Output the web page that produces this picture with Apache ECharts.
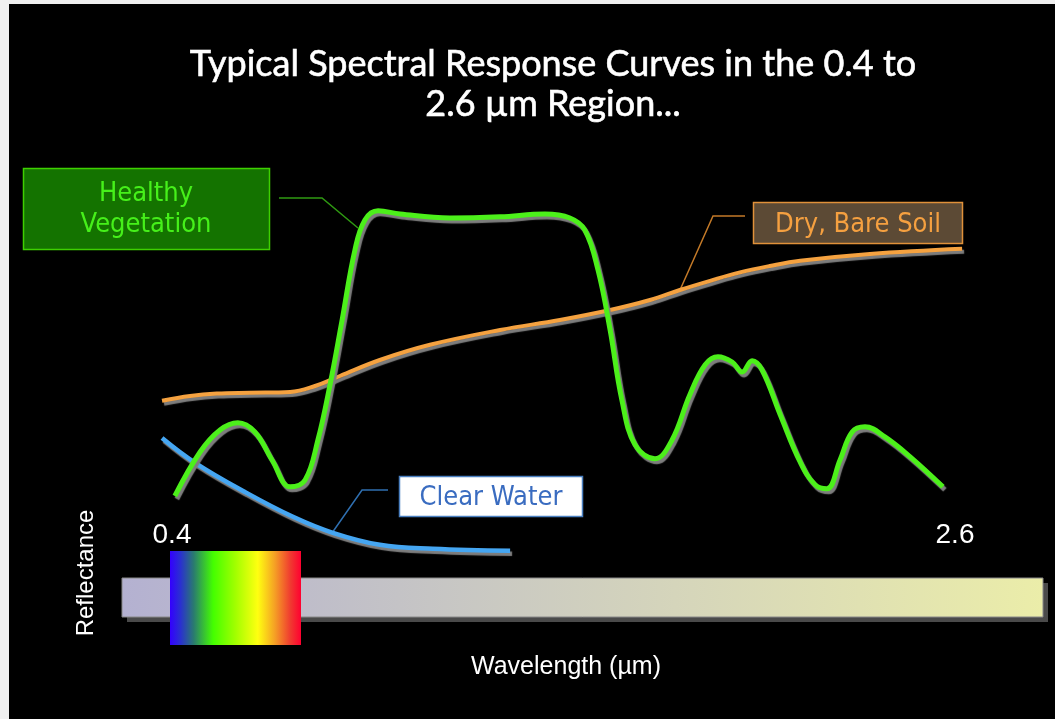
<!DOCTYPE html>
<html>
<head>
<meta charset="utf-8">
<script src="https://cdn.jsdelivr.net/npm/echarts@6/dist/echarts.min.js"></script>
<style>
html,body{margin:0;padding:0;background:#000;}
#c{width:1055px;height:719px;}
</style>
</head>
<body>
<div id="c"></div>
<script>
// Wavelength (µm) / relative reflectance readings
const vegetationX = [0.408,0.479,0.535,0.585,0.633,0.681,0.732,0.774,0.810,0.844,0.878,0.914,0.942,0.979,1.041,1.181,1.322,1.448,1.518,1.560,1.597,1.631,1.664,1.701,1.757,1.805,1.855,1.898,1.934,1.974,2.002,2.030,2.058,2.109,2.165,2.207,2.240,2.277,2.311,2.347,2.403,2.474,2.566];
const vegetationY = [16,27,32.5,34.3,32,25,18.3,20,30,43.8,60,77.5,85,87.3,86.5,85.5,85.8,86.5,85.5,82.5,72.5,57.5,40,28.8,25.3,30,41.3,48.8,50.8,49.5,47,49.8,47.5,36.3,24.5,18.8,17.8,25,32,33.3,30.8,25.8,18.3];
const soilX = [0.372,0.451,0.526,0.619,0.732,0.802,0.872,0.984,1.125,1.322,1.490,1.631,1.743,1.827,1.912,1.996,2.080,2.165,2.361,2.620];
const soilY = [39.8,41,41.6,41.8,42,43.5,46,50,53.8,57.5,60,62.5,65,67.5,69.8,71.9,73.5,74.8,76.5,77.8];
const waterX = [0.372,0.465,0.605,0.740,0.852,0.984,1.133,1.350];
const waterY = [30.5,24.3,17,10.8,6.8,3.8,2.8,2.3];
const tickValues = [0.4, 2.6];
const seriesNames = ['Clear Water', 'Dry, Bare Soil', 'Healthy Vegetation'];
const titleText = 'Typical Spectral Response Curves in the 0.4 to\n2.6 µm Region...';
const xName = 'Wavelength (µm)';
const yName = 'Reflectance';

const zip = (xs, ys) => xs.map((x, i) => [x, ys[i]]);
const chart = echarts.init(document.getElementById('c'));
const shadow = {shadowColor: '#7d7d7d', shadowBlur: 1, shadowOffsetX: 2, shadowOffsetY: 3};
const labelFont = '"DejaVu Sans Condensed","DejaVu Sans",sans-serif';

chart.setOption({
  backgroundColor: '#000',
  animation: false,
  title: {
    text: titleText, left: 548, top: 39, textAlign: 'center',
    textStyle: {color: '#fff', fontFamily: 'Lato', fontWeight: 'normal', fontSize: 36, lineHeight: 40,
      textBorderColor: '#fff', textBorderWidth: 0.6}
  },
  grid: {left: 136.4, right: 64.4, top: 160, bottom: 159},
  xAxis: {
    type: 'value', min: 0.3, max: 2.7,
    axisLine: {show: false}, axisTick: {show: false}, splitLine: {show: false},
    axisLabel: {customValues: tickValues, inside: true, margin: 11, color: '#fff',
      fontFamily: '"Liberation Sans",Arial', fontSize: 28, formatter: v => v.toFixed(1)}
  },
  yAxis: {type: 'value', min: 0, max: 100, show: false},
  series: [
    {name: seriesNames[0], type: 'line', data: zip(waterX, waterY), smooth: 0.4, showSymbol: false,
      lineStyle: Object.assign({color: '#45a6f2', width: 4.5}, shadow)},
    {name: seriesNames[1], type: 'line', data: zip(soilX, soilY), smooth: 0.4, showSymbol: false,
      lineStyle: Object.assign({color: '#f5a240', width: 4}, shadow)},
    {name: seriesNames[2], type: 'line', data: zip(vegetationX, vegetationY), smooth: 0.4, showSymbol: false,
      lineStyle: Object.assign({color: '#4cf01a', width: 5}, shadow)}
  ],
  graphic: [
    // frame edges
    {type: 'rect', shape: {x: 0, y: 0, width: 1055, height: 4}, style: {fill: '#f0f0f0'}},
    {type: 'rect', shape: {x: 0, y: 0, width: 9, height: 719}, style: {fill: '#f0f0f0'}},
    // wavelength bar
    {type: 'rect', shape: {x: 127, y: 583, width: 921, height: 39}, style: {fill: '#4a4a4a'}},
    {type: 'rect', shape: {x: 122, y: 578, width: 921, height: 39},
      style: {stroke: '#888', lineWidth: 1, fill: new echarts.graphic.LinearGradient(0, 0, 1, 0, [
        {offset: 0, color: '#b4b1d1'}, {offset: 0.3, color: '#c4c3c6'},
        {offset: 0.6, color: '#d5d5bb'}, {offset: 1, color: '#ebeda9'}])}},
    {type: 'rect', shape: {x: 170, y: 551, width: 131, height: 94},
      style: {fill: new echarts.graphic.LinearGradient(0, 0, 1, 0, [
        {offset: 0, color: '#3300ff'}, {offset: 0.08, color: '#2a30d0'}, {offset: 0.18, color: '#2a7a70'},
        {offset: 0.33, color: '#44ff00'}, {offset: 0.5, color: '#a2ff00'}, {offset: 0.67, color: '#ffff10'},
        {offset: 0.8, color: '#f5a025'}, {offset: 0.92, color: '#f03a30'}, {offset: 1, color: '#ff0030'}])}},
    // axis names
    {type: 'text', x: 86, y: 573, rotation: Math.PI / 2,
      style: {text: yName, fill: '#fff', font: '24px "Liberation Sans", Arial', align: 'center', verticalAlign: 'middle'}},
    {type: 'text', x: 566, y: 667,
      style: {text: xName, fill: '#fff', font: '25px "Liberation Sans", Arial', align: 'center', verticalAlign: 'middle'}},
    // Healthy Vegetation label
    {type: 'polyline', shape: {points: [[279, 198], [322, 198], [358, 228]]}, style: {stroke: '#2f9a12', lineWidth: 1.5, fill: null}},
    {type: 'rect', shape: {x: 23.5, y: 168.5, width: 246, height: 81}, style: {fill: '#147300', stroke: '#3ed000', lineWidth: 1.5}},
    {type: 'text', x: 146, y: 209,
      style: {text: 'Healthy\nVegetation', fill: '#46f01a', font: '27px ' + labelFont, align: 'center', verticalAlign: 'middle', lineHeight: 31}},
    // Dry, Bare Soil label
    {type: 'polyline', shape: {points: [[745, 216], [713, 216], [680, 290]]}, style: {stroke: '#c47a28', lineWidth: 1.5, fill: null}},
    {type: 'rect', shape: {x: 753.5, y: 202.5, width: 209, height: 41}, style: {fill: '#5c4a35', stroke: '#e0913a', lineWidth: 1.5}},
    {type: 'text', x: 858, y: 225,
      style: {text: 'Dry, Bare Soil', fill: '#f5a040', font: '27px ' + labelFont, align: 'center', verticalAlign: 'middle'}},
    // Clear Water label
    {type: 'polyline', shape: {points: [[388, 490], [362, 490], [332, 533]]}, style: {stroke: '#2f6fb0', lineWidth: 1.5, fill: null}},
    {type: 'rect', shape: {x: 399.5, y: 476.5, width: 183, height: 40}, style: {fill: '#fff', stroke: '#4a7fc0', lineWidth: 1.5}},
    {type: 'text', x: 491, y: 498,
      style: {text: 'Clear Water', fill: '#3a6cc0', font: '27px ' + labelFont, align: 'center', verticalAlign: 'middle'}}
  ]
});
</script>
</body>
</html>
